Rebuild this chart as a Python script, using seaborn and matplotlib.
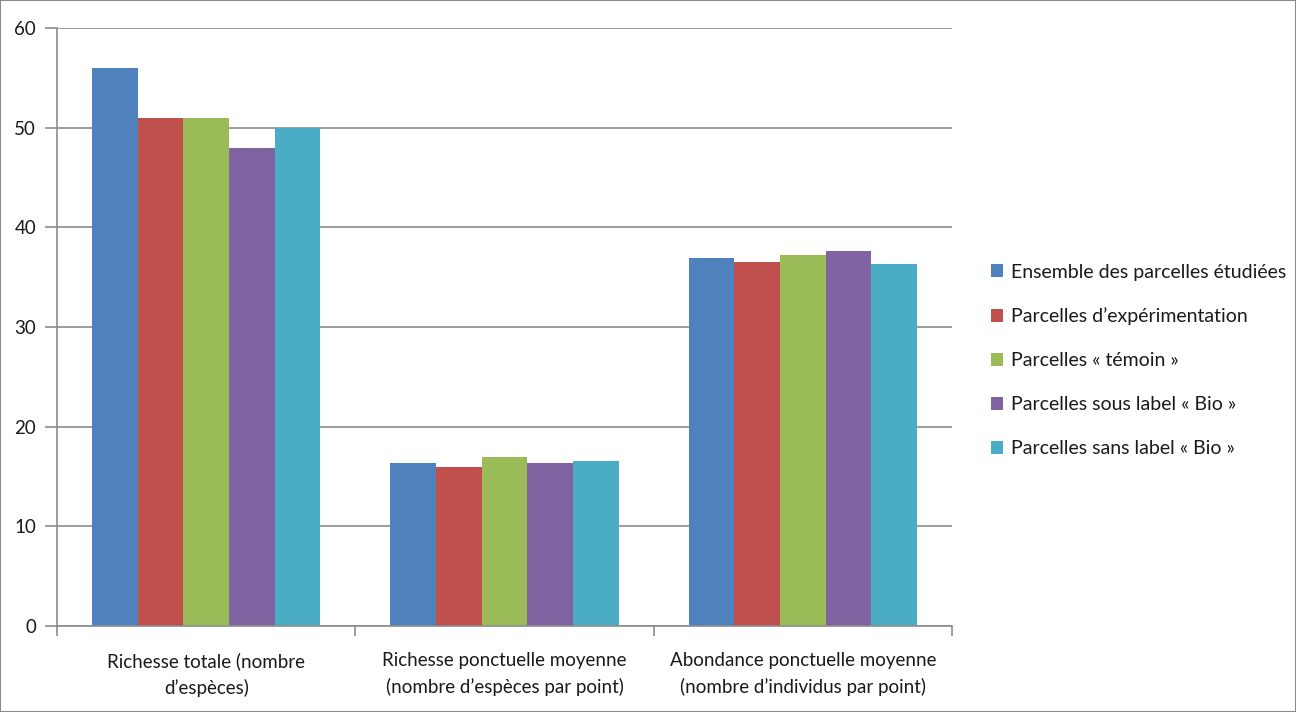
import matplotlib
matplotlib.use("Agg")
import matplotlib.pyplot as plt
import seaborn as sns
import pandas as pd
from matplotlib.patches import Patch, Rectangle

# Indicators shown on the x axis
categories = [
    "Richesse totale (nombre\nd\u2019esp\u00e8ces)",
    "Richesse ponctuelle moyenne\n(nombre d\u2019esp\u00e8ces par point)",
    "Abondance ponctuelle moyenne\n(nombre d\u2019individus par point)",
]

# Plot groups (hue)
series = [
    "Ensemble des parcelles \u00e9tudi\u00e9es",
    "Parcelles d\u2019exp\u00e9rimentation",
    "Parcelles \u00ab t\u00e9moin \u00bb",
    "Parcelles sous label \u00ab Bio \u00bb",
    "Parcelles sans label \u00ab Bio \u00bb",
]

ensemble = [56, 16.4, 36.9]
experimentation = [51, 16.0, 36.5]
temoin = [51, 17.0, 37.25]
sous_bio = [48, 16.4, 37.6]
sans_bio = [50, 16.6, 36.35]

colors = ["#4F81BD", "#C0504D", "#9BBB59", "#8064A2", "#4BACC6"]

values = [ensemble, experimentation, temoin, sous_bio, sans_bio]
rows = []
for name, vals in zip(series, values):
    for cat, v in zip(categories, vals):
        rows.append({"categorie": cat, "groupe": name, "valeur": v})
df = pd.DataFrame(rows)

sns.set_theme(style="white")
plt.rcParams["font.family"] = ["Lato", "DejaVu Sans"]

fig = plt.figure(figsize=(12.96, 7.12), dpi=100)
ax = fig.add_axes([0.044, 0.1208, 0.6906, 0.8399])

sns.barplot(
    data=df, x="categorie", y="valeur", hue="groupe",
    order=categories, hue_order=series, palette=colors,
    width=0.765, saturation=1, ax=ax, legend=False,
    edgecolor="none", linewidth=0,
)

ax.set_xlim(-0.5, 2.5)
ax.set_ylim(0, 60)
ax.set_yticks(range(0, 61, 10))
ax.yaxis.grid(True, color="#8C8C8C", linewidth=1.2)
ax.set_axisbelow(True)
ax.set_xlabel("")
ax.set_ylabel("")

for side in ["top", "right"]:
    ax.spines[side].set_visible(False)
for side in ["left", "bottom"]:
    ax.spines[side].set_color("#8C8C8C")
    ax.spines[side].set_linewidth(1.2)

# Category boundary ticks on x, labels centred between them
ax.set_xticks([-0.5, 0.5, 1.5, 2.5])
ax.set_xticklabels([])
ax.set_xticks([0, 1, 2], minor=True)
ax.set_xticklabels(categories, minor=True, fontsize=13.5, color="#1A1A1A",
                   linespacing=1.6)
ax.tick_params(axis="x", which="major", direction="out", length=7,
               color="#8C8C8C", width=1.2, bottom=True)
ax.tick_params(axis="x", which="minor", length=0, pad=19)
ax.tick_params(axis="y", direction="out", length=9, color="#8C8C8C",
               width=1.2, left=True, labelsize=13.5, labelcolor="#1A1A1A", pad=6)

handles = [Patch(facecolor=c, edgecolor="none") for c in colors]
fig.legend(
    handles, series, loc="center left", bbox_to_anchor=(0.751, 0.494),
    frameon=False, fontsize=14, handlelength=0.65, handleheight=0.65,
    handletextpad=0.4, labelspacing=1.38, labelcolor="#1A1A1A",
)

fig.patches.append(Rectangle((0, 0), 1, 1, transform=fig.transFigure,
                             fill=False, edgecolor="#8C8C8C", linewidth=1.5))

fig.savefig("out.png", dpi=100)
